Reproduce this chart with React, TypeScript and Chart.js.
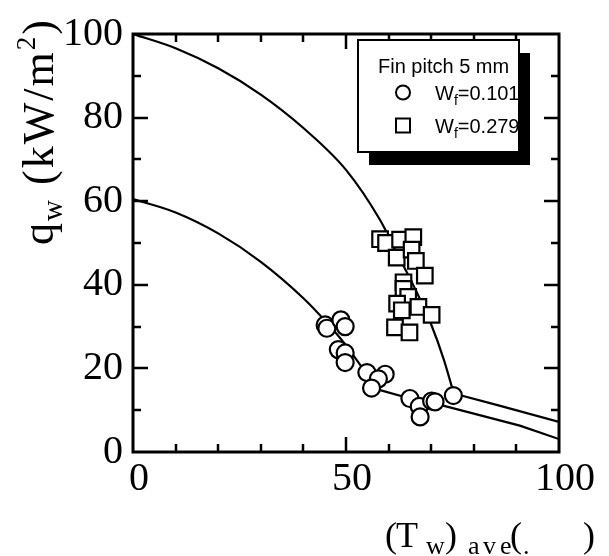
import React, { useEffect, useRef } from 'react';
import { Chart, registerables } from 'chart.js';
Chart.register(...registerables);

// ---- data ----
const circleX = [45.1, 45.5, 48.8, 49.8, 48.2, 49.8, 49.8, 54.9, 59.2, 57.6, 56.0, 65.0, 67.2, 67.4, 70.1, 70.9, 75.2];
const circleY = [30.4, 29.6, 31.6, 30.0, 24.5, 23.7, 21.4, 19.0, 18.6, 17.5, 15.3, 12.8, 10.9, 8.4, 12.2, 12.0, 13.5];

const squareX = [58.0, 59.4, 62.7, 65.8, 61.9, 65.4, 66.4, 68.5, 63.5, 63.5, 64.6, 62.0, 63.1, 67.0, 70.1, 61.5, 64.9];
const squareY = [50.9, 50.0, 50.8, 51.4, 46.5, 48.4, 45.7, 42.2, 40.6, 39.0, 37.1, 35.5, 33.9, 34.7, 32.8, 29.8, 28.6];

const upperCurveX = [0, 10, 20, 30, 40, 50, 58, 62, 66, 70, 73, 75.3];
const upperCurveY = [100, 96.6, 91.8, 85.5, 77.5, 67.5, 55.5, 47.5, 39.5, 30.5, 22, 14];
const upperTailX = [75.3, 86, 100];
const upperTailY = [14, 11.1, 7.2];

const lowerCurveX = [0, 10, 20, 30, 40, 45, 50, 55, 58];
const lowerCurveY = [60.5, 57.3, 52.3, 45.5, 36.8, 31.5, 25.5, 18.5, 14.8];
const lowerTailX = [58, 65, 72.8, 90.8, 100];
const lowerTailY = [14.8, 12.8, 11.1, 6.3, 3.1];

const xTickLabels = [0, 50, 100];
const yTickLabels = [0, 20, 40, 60, 80, 100];
const xMinorStep = 10;
const yMinorStep = 10;

const legendTitle = 'Fin pitch 5 mm';
const seriesMain = ['W', 'W'];
const seriesSub = ['f', 'f'];
const seriesRest = ['=0.101', '=0.279'];

const SERIF = '"Liberation Serif", "Times New Roman", serif';
const SANS = '"Liberation Sans", Arial, sans-serif';

const toPts = (xs: number[], ys: number[]) => xs.map((x, i) => ({ x, y: ys[i] }));

const decor = {
  id: 'decor',
  afterDatasetsDraw(chart: any) {
    const { ctx, chartArea: a, scales } = chart;
    const xs = scales.x;
    const ys = scales.y;
    ctx.save();
    ctx.strokeStyle = '#000';
    ctx.lineWidth = 2.5;
    ctx.beginPath();
    for (let v = xs.min + xMinorStep; v < xs.max; v += xMinorStep) {
      const px = Math.round(xs.getPixelForValue(v));
      const len = v % 50 === 0 ? 15 : 8;
      ctx.moveTo(px, a.bottom);
      ctx.lineTo(px, a.bottom - len);
      ctx.moveTo(px, a.top);
      ctx.lineTo(px, a.top + len);
    }
    for (let v = ys.min + yMinorStep; v < ys.max; v += yMinorStep) {
      const py = Math.round(ys.getPixelForValue(v));
      const len = v % 20 === 0 ? 15 : 8;
      ctx.moveTo(a.left, py);
      ctx.lineTo(a.left + len, py);
      ctx.moveTo(a.right, py);
      ctx.lineTo(a.right - len, py);
    }
    ctx.stroke();
    ctx.lineWidth = 3;
    ctx.strokeRect(a.left, a.top, a.right - a.left, a.bottom - a.top);
    ctx.restore();
  },
  afterDraw(chart: any) {
    const { ctx } = chart;
    ctx.save();
    ctx.fillStyle = '#000';
    ctx.textBaseline = 'alphabetic';
    ctx.textAlign = 'left';

    // ---- legend box with shadow ----
    const bx = 358, by = 40, bw = 161, bh = 112;
    ctx.fillRect(bx + 11, by + 13, bw, bh);
    ctx.fillStyle = '#fff';
    ctx.fillRect(bx, by, bw, bh);
    ctx.strokeStyle = '#000';
    ctx.lineWidth = 2;
    ctx.strokeRect(bx, by, bw, bh);
    ctx.fillStyle = '#000';
    ctx.font = `20px ${SANS}`;
    ctx.fillText(legendTitle, 378, 73);
    const rowBase = [100, 133];
    for (let i = 0; i < 2; i++) {
      const cy = rowBase[i] - 7.5;
      ctx.lineWidth = 2;
      ctx.beginPath();
      if (i === 0) ctx.arc(403, cy, 7, 0, Math.PI * 2);
      else ctx.rect(396, cy - 7, 14, 14);
      ctx.stroke();
      let tx = 435;
      ctx.font = `20px ${SANS}`;
      ctx.fillText(seriesMain[i], tx, rowBase[i]);
      tx += ctx.measureText(seriesMain[i]).width;
      ctx.font = `14px ${SANS}`;
      ctx.fillText(seriesSub[i], tx, rowBase[i] + 5);
      tx += ctx.measureText(seriesSub[i]).width;
      ctx.font = `20px ${SANS}`;
      ctx.fillText(seriesRest[i], tx, rowBase[i]);
    }

    // ---- y axis title (rotated) ----
    const runs = [
      { t: 'q', s: 44, dy: 0 },
      { t: 'w', s: 29, dy: 9 },
      { t: ' (kW/m', s: 44, dy: 0 },
      { t: '2', s: 27, dy: -18 },
      { t: ')', s: 44, dy: 0 },
    ];
    const chars: { c: string; s: number; dy: number; w: number }[] = [];
    for (const r of runs) {
      ctx.font = `${r.s}px ${SERIF}`;
      for (const c of r.t) chars.push({ c, s: r.s, dy: r.dy, w: ctx.measureText(c).width });
    }
    const natural = chars.reduce((p, c) => p + c.w, 0);
    const target = 225;
    const extra = Math.max(-2, (target - natural) / (chars.length - 1));
    ctx.save();
    ctx.translate(53, 245);
    ctx.rotate(-Math.PI / 2);
    let ax = 0;
    for (const c of chars) {
      ctx.font = `${c.s}px ${SERIF}`;
      ctx.fillText(c.c, ax, c.dy);
      ax += c.w + extra;
    }
    ctx.restore();

    // ---- x axis title ----
    const xt = [
      { t: '(', s: 36, x: 385, y: 547 },
      { t: 'T', s: 36, x: 396, y: 547 },
      { t: 'w', s: 26, x: 426, y: 554 },
      { t: ')', s: 36, x: 445, y: 547 },
      { t: 'a', s: 26, x: 468, y: 554 },
      { t: 'v', s: 26, x: 483, y: 554 },
      { t: 'e', s: 26, x: 500, y: 554 },
      { t: '(', s: 36, x: 510, y: 547 },
      { t: '.', s: 26, x: 523, y: 554 },
      { t: ')', s: 36, x: 583, y: 547 },
    ];
    for (const p of xt) {
      ctx.font = `${p.s}px ${SERIF}`;
      ctx.fillText(p.t, p.x, p.y);
    }
    ctx.restore();
  },
};

export default function App() {
  const ref = useRef<HTMLCanvasElement | null>(null);
  useEffect(() => {
    if (!ref.current) return;
    const lineDs = (data: any[], smooth: boolean) => ({
      data,
      showLine: true,
      borderColor: '#000',
      borderWidth: 2.2,
      pointRadius: 0,
      pointHoverRadius: 0,
      fill: false,
      cubicInterpolationMode: smooth ? 'monotone' : 'default',
      tension: 0,
      order: 2,
    });
    const chart = new Chart(ref.current, {
      type: 'scatter',
      data: {
        datasets: [
          {
            label: 'Wf=0.101',
            data: toPts(circleX, circleY),
            pointStyle: 'circle',
            pointRadius: 8.5,
            pointBorderWidth: 2.2,
            pointBackgroundColor: '#fff',
            pointBorderColor: '#000',
            order: 1,
          } as any,
          {
            label: 'Wf=0.279',
            data: toPts(squareX, squareY),
            pointStyle: 'rect',
            pointRadius: 11,
            pointBorderWidth: 2.2,
            pointBackgroundColor: '#fff',
            pointBorderColor: '#000',
            order: 0,
          } as any,
          lineDs(toPts(upperCurveX, upperCurveY), true) as any,
          lineDs(toPts(upperTailX, upperTailY), false) as any,
          lineDs(toPts(lowerCurveX, lowerCurveY), true) as any,
          lineDs(toPts(lowerTailX, lowerTailY), false) as any,
        ],
      },
      options: {
        animation: false,
        responsive: false,
        devicePixelRatio: 1,
        layout: { padding: { left: 0, top: 27, right: 50, bottom: 0 } },
        plugins: { legend: { display: false }, tooltip: { enabled: false }, title: { display: false } },
        events: [],
        scales: {
          x: {
            type: 'linear',
            min: 0,
            max: 100,
            afterFit: (s: any) => { s.height = 104; },
            afterBuildTicks: (s: any) => { s.ticks = xTickLabels.map((v) => ({ value: v })); },
            ticks: { font: { family: SERIF, size: 40 }, color: '#000', padding: 3, labelOffset: 6, maxRotation: 0 },
            grid: { display: false, drawTicks: false },
            border: { display: false },
          },
          y: {
            type: 'linear',
            min: 0,
            max: 100,
            afterFit: (s: any) => { s.width = 133; },
            afterBuildTicks: (s: any) => { s.ticks = yTickLabels.map((v) => ({ value: v })); },
            ticks: { font: { family: SERIF, size: 40 }, color: '#000', padding: 10 },
            grid: { display: false, drawTicks: false },
            border: { display: false },
          },
        },
      } as any,
      plugins: [decor],
    });
    return () => chart.destroy();
  }, []);
  return (
    <div style={{ position: 'absolute', left: 0, top: 0, width: 609, height: 556, background: '#fff' }}>
      <canvas ref={ref} width={609} height={556} style={{ display: 'block', width: 609, height: 556 }} />
    </div>
  );
}
